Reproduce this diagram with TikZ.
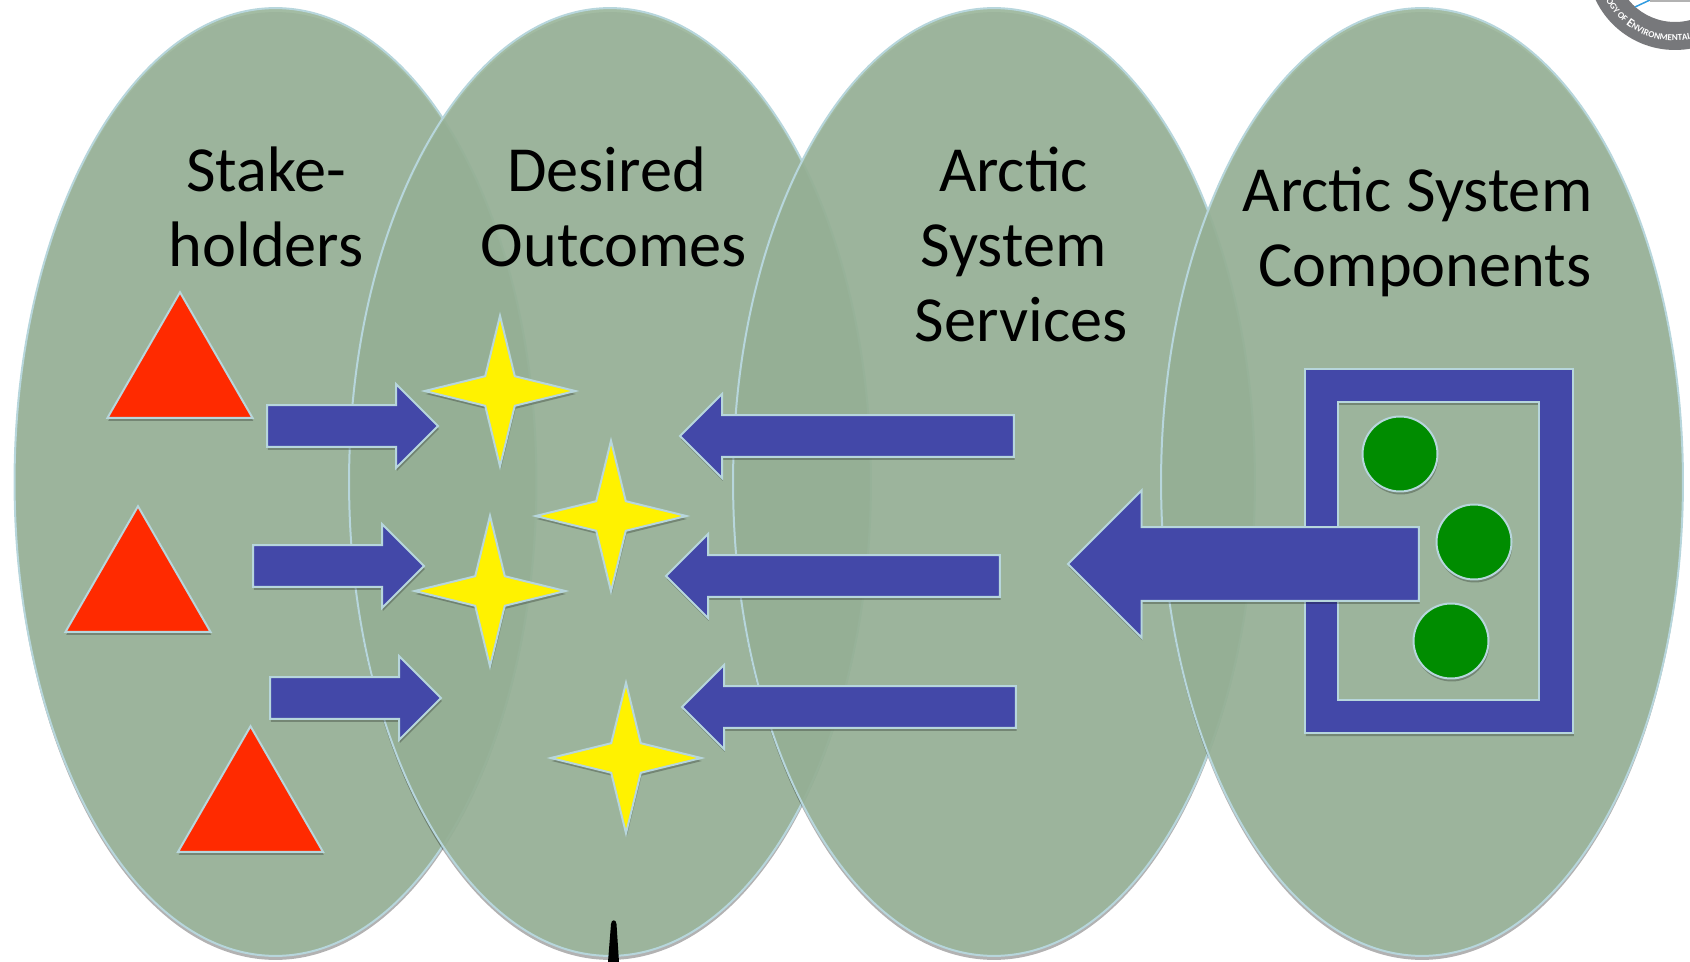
\documentclass[tikz,border=0pt]{standalone}
\usepackage{fontspec}
\setmainfont{Carlito}
\usepackage{xcolor}
\usepackage{tikz}
\usetikzlibrary{shapes.geometric, shapes.arrows, shadows, decorations.text}
\definecolor{lobegreen}{HTML}{9AB59A}
\definecolor{rimblue}{HTML}{B7D6DC}
\definecolor{arrowblue}{HTML}{4348A8}
\definecolor{dotgreen}{HTML}{008C00}
\definecolor{trianglered}{HTML}{FF2A00}
\definecolor{sealgray}{HTML}{77787B}
\definecolor{sealblue}{HTML}{2F9BE0}
\newcommand{\trailspace}{\hspace*{.23em}}
\tikzset{
    softshadow/.style={drop shadow={shadow xshift=.15mm, shadow yshift=-.6mm, opacity=.25, fill=black}},
    lobe/.style={draw=rimblue, line width=.4mm, fill=lobegreen, fill opacity=.91,
        drop shadow={shadow xshift=0mm, shadow yshift=-.8mm, opacity=.3, fill=black}},
    headtext/.style={text=black, font=\fontsize{36.6}{42.7}\selectfont, align=center, inner sep=0mm},
    shaped/.style={draw=rimblue, line width=.4mm, inner sep=0mm, outer sep=0mm, softshadow},
    stakeholder/.style={shaped, fill=trianglered, regular polygon, regular polygon sides=3, minimum size=3.35cm},
    outcome/.style={shaped, fill=yellow, star, star points=4, star point ratio=3.6, minimum size=3.01cm},
    component/.style={shaped, fill=dotgreen, circle, minimum size=1.5cm},
    flow/.style={shaped, fill=arrowblue, single arrow, single arrow tip angle=90, single arrow head extend=.42cm,
        inner ysep=.4cm, anchor=tip},
    flowin/.style={flow, minimum height=3.42cm},
    flowback/.style={flow, shape border rotate=180, minimum height=6.68cm}
}

\begin{document}
\begin{tikzpicture}[x=.02cm, y=-.02cm]
        \clip (0,0) rectangle (1690,962);
        \coordinate (sealc) at (1675,-38);
        \fill[sealgray, even odd rule] (sealc) circle [radius=88] (sealc) circle [radius=60];
        \draw[sealblue, line width=.3mm] (1635,7) -- (1650,0);
        \fill[gray!60] (1650,0) rectangle (1690,2);
        \path[decorate, decoration={text along path, text color=white,
            text={|\bfseries\fontsize{5.2}{6}\selectfont|OGY OF |\bfseries\fontsize{7}{7}\selectfont|E|\bfseries\fontsize{5.2}{6}\selectfont|NVIRONMENTAL}}]
            (sealc) ++(151:79) arc [start angle=151, end angle=70, radius=79];

        \node[lobe, ellipse, minimum width=10.44cm, minimum height=18.96cm] (lobeone) at (275.5,482) {};
        \node[lobe, ellipse, minimum width=10.44cm, minimum height=18.96cm] (lobetwo) at (610,482) {};
        \node[lobe, ellipse, minimum width=10.44cm, minimum height=18.96cm] (lobethree) at (994,482) {};
        \node[lobe, ellipse, minimum width=10.44cm, minimum height=18.96cm] (lobefour) at (1422,482) {};

        \node[headtext] (stakeholders) at (266,207) {Stake-\\holders};
        \node[headtext] (outcomes) at (614,207) {Desired\trailspace\\Outcomes};
        \node[headtext] (services) at (1021,244.5) {Arctic\trailspace\\System\trailspace\trailspace\\Services};
        \node[headtext] (components) at (1425,232) {Arctic System\trailspace\\Components};

        \node[stakeholder] (standone) at (180,376) {};
        \node[stakeholder] (standtwo) at (138,590) {};
        \node[stakeholder] (standthree) at (250.5,810) {};

        \fill[black, opacity=.25, even odd rule, xshift=.15mm, yshift=-.6mm] (1305,369) rectangle (1573,733) (1338,402) rectangle (1539,700);
        \draw[draw=rimblue, line width=.4mm, fill=arrowblue, even odd rule] (1305,369) rectangle (1573,733) (1338,402) rectangle (1539,700);
        \node[component] (dotone) at (1400,454) {};
        \node[component] (dottwo) at (1474,542) {};
        \node[component] (dotthree) at (1451,641) {};

        \node[flowin] (flowone) at (438,426) {};
        \node[flowin] (flowtwo) at (424,566) {};
        \node[flowin] (flowthree) at (441,698) {};

        \node[outcome] (goalone) at (500,391) {};
        \node[outcome] (goaltwo) at (611,516) {};
        \node[outcome] (goalthree) at (490,591) {};
        \node[outcome] (goalfour) at (626,758) {};

        \node[flowback] (backone) at (680,436) {};
        \node[flowback] (backtwo) at (666,576) {};
        \node[flowback] (backthree) at (682,707) {};
        \node[flow, shape border rotate=180, single arrow head extend=.73cm, inner ysep=.72cm, minimum height=7.02cm] (backbig) at (1068,564) {};

        \fill[black] (608,962) -- (611,924) .. controls (611.5,919) and (616,919) .. (616.5,924) -- (619,962) -- cycle;
    \end{tikzpicture}
\end{document}
